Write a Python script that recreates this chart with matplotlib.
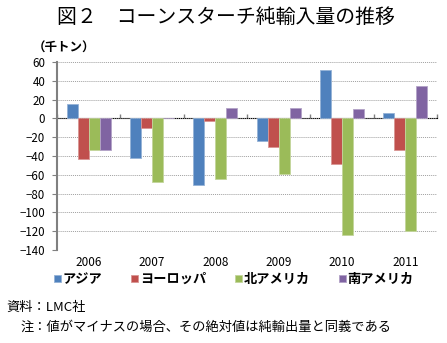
import matplotlib.pyplot as plt
import numpy as np

plt.rcParams['font.family'] = ['Noto Sans CJK JP', 'DejaVu Sans']

years = ["2006", "2007", "2008", "2009", "2010", "2011"]
asia = [15, -42, -71, -24, 51, 6]
europe = [-43, -10, -3, -30, -49, -34]
n_america = [-34, -68, -64, -59, -124, -120]
s_america = [-34, 0, 11, 11, 10, 34]

series_names = ["アジア", "ヨーロッパ", "北アメリカ", "南アメリカ"]
colors = ["#4F81BD", "#C0504D", "#9BBB59", "#8064A2"]
edges = ["#95B3D7", "#D99694", "#C3D69B", "#B3A2C7"]

fig = plt.figure(figsize=(4.47, 3.43), dpi=100)
ax = fig.add_axes([57 / 447, 1 - 250 / 343, 380 / 447, 188 / 343])

x = np.arange(len(years))
w = 0.174
for i, vals in enumerate([asia, europe, n_america, s_america]):
    ax.bar(x + (i - 1.5) * w, vals, w, color=colors[i], edgecolor=edges[i],
           linewidth=0.6, label=series_names[i], zorder=3)

ymin, ymax = -140, 60
ax.set_ylim(ymin, ymax)
ax.set_xlim(-0.5, len(years) - 0.5)
ax.set_yticks(np.arange(ymin, ymax + 1, 20))
ax.yaxis.grid(True, color="#A0A0A0", linestyle=(0, (1, 1)), linewidth=0.7, zorder=0)
ax.tick_params(axis="y", labelsize=8.3, length=3.5, color="#808080", pad=5)

for s in ["top", "right", "bottom"]:
    ax.spines[s].set_visible(False)
ax.spines["left"].set_color("#808080")
ax.spines["left"].set_linewidth(1.5)

# category labels below the plot
ax.set_xticks(x)
ax.set_xticklabels(years, fontsize=8.5)
ax.tick_params(axis="x", length=0, pad=4)

# zero line with boundary ticks
zero_ax = ax.secondary_xaxis((0 - ymin) / (ymax - ymin))
zero_ax.set_xticks(np.arange(-0.5, len(years), 1.0))
zero_ax.set_xticklabels([])
zero_ax.tick_params(length=3, color="#808080", width=1)
zero_ax.spines["bottom"].set_color("#808080")
zero_ax.spines["bottom"].set_linewidth(1.5)

fig.text(226 / 447, 1 - 17 / 343, "図２　コーンスターチ純輸入量の推移", ha="center", va="center",
         fontsize=14.3)
fig.text(33 / 447, 1 - 48 / 343, "（千トン）", ha="left", va="center",
         fontsize=9, fontweight="bold")

handles, labels = ax.get_legend_handles_labels()
leg = fig.legend(handles, labels, loc="center", bbox_to_anchor=(234 / 447, 1 - 279 / 343),
                 ncol=4, frameon=False, handlelength=0.5,
                 handleheight=0.5, handletextpad=0.15, columnspacing=2.2,
                 prop={"weight": "bold", "size": 9.5})

fig.text(6 / 447, 1 - 307 / 343, "資料：LMC社", ha="left", va="center", fontsize=9.5)
fig.text(21 / 447, 1 - 327 / 343, "注：値がマイナスの場合、その絶対値は純輸出量と同義である",
         ha="left", va="center", fontsize=9.5)

fig.savefig("out.png", dpi=100)
